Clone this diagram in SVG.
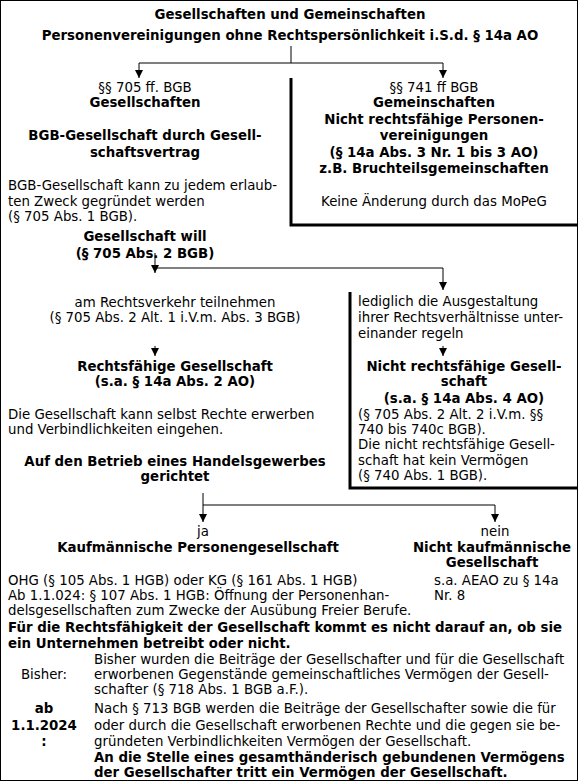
<svg xmlns="http://www.w3.org/2000/svg" width="579" height="782" viewBox="0 0 579 782">
<style>
text{font-family:"DejaVu Sans","Verdana",sans-serif;font-size:13.33px;fill:#000}
.b{font-weight:bold}
.m{text-anchor:middle}
.ln{stroke:#000;stroke-width:1;fill:none}
.thick{stroke:#000;stroke-width:3;fill:none}
</style>
<defs>
<marker id="ah" markerUnits="userSpaceOnUse" markerWidth="9" markerHeight="9" refX="8" refY="4.5" orient="auto">
<path d="M0,0.5 L8,4.5 L0,8.5 z" fill="#000"/>
</marker>
</defs>
<rect x="0.5" y="0.5" width="577" height="780" fill="#fff" stroke="#000" stroke-width="1"/>
<g id="dividers">
<path class="thick" d="M291,78 V225 H578"/>
<path class="thick" d="M350,292 V488 H578"/>
</g>
<g id="connectors">
<path class="ln" d="M291,46 V63 M139,63 H443"/>
<path class="ln" d="M139,63 V78" marker-end="url(#ah)"/>
<path class="ln" d="M443,63 V78" marker-end="url(#ah)"/>
<path class="ln" d="M155,253 V273" marker-end="url(#ah)"/>
<path class="ln" d="M155,268 H443 V290" marker-end="url(#ah)"/>
<path class="ln" d="M155,346 V356" marker-end="url(#ah)"/>
<path class="ln" d="M443,346 V356" marker-end="url(#ah)"/>
<path class="ln" d="M203,493 V522" marker-end="url(#ah)"/>
<path class="ln" d="M203,505 H495 V522" marker-end="url(#ah)"/>
</g>
<g id="title">
<text class="b m" x="290" y="19">Gesellschaften und Gemeinschaften</text>
<text class="b m" x="290" y="40">Personenvereinigungen ohne Rechtspersönlichkeit i.S.d. § 14a AO</text>
</g>
<g id="gesellschaften">
<text class="m" x="145" y="92">§§ 705 ff. BGB</text>
<text class="b m" x="145" y="107">Gesellschaften</text>
<text class="b m" x="145" y="140">BGB-Gesellschaft durch Gesell-</text>
<text class="b m" x="145" y="157">schaftsvertrag</text>
<text x="8" y="190">BGB-Gesellschaft kann zu jedem erlaub-</text>
<text x="8" y="206">ten Zweck gegründet werden</text>
<text x="8" y="221">(§ 705 Abs. 1 BGB).</text>
</g>
<g id="gemeinschaften">
<text class="m" x="434" y="92">§§ 741 ff BGB</text>
<text class="b m" x="434" y="107">Gemeinschaften</text>
<text class="b m" x="434" y="124">Nicht rechtsfähige Personen-</text>
<text class="b m" x="434" y="140">vereinigungen</text>
<text class="b m" x="434" y="157">(§ 14a Abs. 3 Nr. 1 bis 3 AO)</text>
<text class="b m" x="434" y="173">z.B. Bruchteilsgemeinschaften</text>
<text class="m" x="434" y="206">Keine Änderung durch das MoPeG</text>
</g>
<g id="will">
<text class="b m" x="145" y="241">Gesellschaft will</text>
<text class="b m" x="145" y="258">(§ 705 Abs. 2 BGB)</text>
</g>
<g id="teilnehmen">
<text class="m" x="175" y="307">am Rechtsverkehr teilnehmen</text>
<text class="m" x="175" y="322">(§ 705 Abs. 2 Alt. 1 i.V.m. Abs. 3 BGB)</text>
</g>
<g id="rechtsfaehig">
<text class="b m" x="175" y="371">Rechtsfähige Gesellschaft</text>
<text class="b m" x="175" y="386">(s.a. § 14a Abs. 2 AO)</text>
<text x="8" y="419">Die Gesellschaft kann selbst Rechte erwerben</text>
<text x="8" y="434">und Verbindlichkeiten eingehen.</text>
</g>
<g id="ausgestaltung">
<text x="358" y="306">lediglich die Ausgestaltung</text>
<text x="358" y="322">ihrer Rechtsverhältnisse unter-</text>
<text x="358" y="338">einander regeln</text>
</g>
<g id="nicht-rechtsfaehig">
<text class="b m" x="464" y="371">Nicht rechtsfähige Gesell-</text>
<text class="b m" x="464" y="386">schaft</text>
<text class="b m" x="464" y="403">(s.a. § 14a Abs. 4 AO)</text>
<text x="358" y="419">(§ 705 Abs. 2 Alt. 2 i.V.m. §§</text>
<text x="358" y="434">740 bis 740c BGB).</text>
<text x="358" y="449">Die nicht rechtsfähige Gesell-</text>
<text x="358" y="465">schaft hat kein Vermögen</text>
<text x="358" y="480">(§ 740 Abs. 1 BGB).</text>
</g>
<g id="handelsgewerbe">
<text class="b m" x="175" y="466">Auf den Betrieb eines Handelsgewerbes</text>
<text class="b m" x="175" y="481">gerichtet</text>
</g>
<g id="kaufmaennisch">
<text class="m" x="203" y="536">ja</text>
<text class="b m" x="198" y="552">Kaufmännische Personengesellschaft</text>
<text x="8" y="585">OHG (§ 105 Abs. 1 HGB) oder KG (§ 161 Abs. 1 HGB)</text>
<text x="8" y="600">Ab 1.1.024: § 107 Abs. 1 HGB: Öffnung der Personenhan-</text>
<text x="8" y="615">delsgesellschaften zum Zwecke der Ausübung Freier Berufe.</text>
</g>
<g id="nicht-kaufmaennisch">
<text class="m" x="495" y="536">nein</text>
<text class="b m" x="492" y="552">Nicht kaufmännische</text>
<text class="b m" x="492" y="567">Gesellschaft</text>
<text x="434" y="585">s.a. AEAO zu § 14a</text>
<text x="434" y="600">Nr. 8</text>
</g>
<g id="unternehmen">
<text class="b" x="8" y="632">Für die Rechtsfähigkeit der Gesellschaft kommt es nicht darauf an, ob sie</text>
<text class="b" x="8" y="648">ein Unternehmen betreibt oder nicht.</text>
</g>
<g id="bisher">
<text class="m" x="44" y="679">Bisher:</text>
<text x="94" y="664">Bisher wurden die Beiträge der Gesellschafter und für die Gesellschaft</text>
<text x="94" y="679">erworbenen Gegenstände gemeinschaftliches Vermögen der Gesell-</text>
<text x="94" y="694">schafter (§ 718 Abs. 1 BGB a.F.).</text>
</g>
<g id="ab2024">
<text class="b m" x="44" y="713">ab</text>
<text class="b m" x="44" y="730">1.1.2024</text>
<text class="b m" x="44" y="746">:</text>
<text x="94" y="713">Nach § 713 BGB werden die Beiträge der Gesellschafter sowie die für</text>
<text x="94" y="730">oder durch die Gesellschaft erworbenen Rechte und die gegen sie be-</text>
<text x="94" y="746">gründeten Verbindlichkeiten Vermögen der Gesellschaft.</text>
<text class="b" x="94" y="762">An die Stelle eines gesamthänderisch gebundenen Vermögens</text>
<text class="b" x="94" y="777">der Gesellschafter tritt ein Vermögen der Gesellschaft.</text>
</g>
</svg>
